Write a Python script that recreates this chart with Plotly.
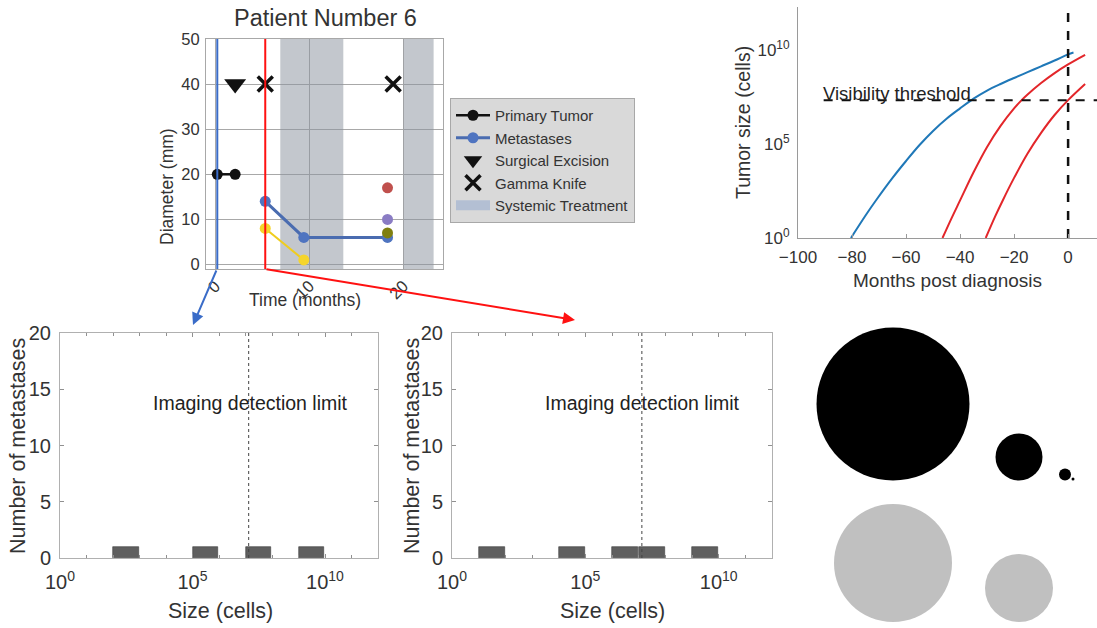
import plotly.graph_objects as go

W, H = 1097, 628
FONT = "Liberation Sans, Arial, sans-serif"
TXT = "#333333"


def px(x):
    return x / W


def py(y):
    return 1 - y / H


# ---------------- Panel A: patient timeline ----------------
snapshot_times = [0.2, 5.3]
primary_t = [0.2, 2.1]
primary_d = [20, 20]
met_blue_t = [5.3, 9.4, 18.3]
met_blue_d = [14, 6, 6]
met_yellow_t = [5.3, 9.4]
met_yellow_d = [8, 1]
late_met_t = [18.3, 18.3, 18.3]
late_met_d = [17, 10, 7]
late_met_colors = ["#c0504d", "#8a7cc4", "#7f7f10"]
surgery_t = [2.1]
surgery_y = [40]
gamma_t = [5.3, 18.9]
gamma_y = [40, 40]
systemic_start = [6.9, 20.0]
systemic_end = [13.6, 23.2]

# ---------------- Panel B: growth curves (log10 of cells) ----------------
blue_months = [-80.4, -75, -70.9, -65, -60, -55, -50, -45, -40, -35, -30, -25, -20, -15, -10, -5, 0, 2]
blue_log = [0, 1.2, 2.05, 3.2, 4.1, 4.95, 5.7, 6.35, 6.9, 7.42, 7.85, 8.2, 8.52, 8.83, 9.14,
            9.45, 9.78, 9.88]
red1_months = [-46.5, -43, -40, -35, -30, -25, -20, -17.2, -15, -10, -5, 0, 6.3]
red1_log = [0, 1.1, 2.0, 3.5, 4.85, 5.97, 6.9, 7.34, 7.64, 8.25, 8.78, 9.24, 9.75]
red2_months = [-30.5, -27, -24.2, -20, -15, -10, -5, 0, 6.3]
red2_log = [0, 1.15, 2.0, 3.2, 4.5, 5.6, 6.55, 7.34, 8.2]
visibility_log = 7.34
threshold_start = -90.5

# ---------------- Panels C/D: histograms ----------------
histC_bin_log = [2, 5, 7, 9]
histC_counts = [1, 1, 1, 1]
histD_bin_log = [1, 4, 6, 7, 9]
histD_counts = [1, 1, 1, 1, 1]
detection_log = 7.12

# ---------------- Panel E: circles ----------------
black_diam = [153, 47, 12, 3]
gray_diam = [118, 68]

fig = go.Figure()

# Panel A traces
bx, by = [], []
for s, e in zip(systemic_start, systemic_end):
    bx += [s, e, e, s, s, None]
    by += [-1, -1, 50, 50, -1, None]
fig.add_trace(go.Scatter(x=bx, y=by, fill="toself", mode="lines", line=dict(width=0),
                         fillcolor="rgba(140,148,160,0.52)", showlegend=False,
                         xaxis="x", yaxis="y"))
# legend key for systemic treatment (patch)
fig.add_trace(go.Scatter(x=[None], y=[None], mode="lines", name="Systemic Treatment",
                         line=dict(color="#b3bfd3", width=11), legendrank=5,
                         xaxis="x", yaxis="y"))
fig.add_trace(go.Scatter(x=primary_t, y=primary_d, mode="lines+markers", name="Primary Tumor",
                         line=dict(color="#111111", width=2.5), marker=dict(size=11, color="#111111"),
                         legendrank=1, xaxis="x", yaxis="y"))
fig.add_trace(go.Scatter(x=met_yellow_t, y=met_yellow_d, mode="lines+markers", showlegend=False,
                         line=dict(color="#f0cd1c", width=2), marker=dict(size=11, color="#f5d52c"),
                         xaxis="x", yaxis="y"))
fig.add_trace(go.Scatter(x=met_blue_t, y=met_blue_d, mode="lines+markers", name="Metastases",
                         line=dict(color="#4a6cb0", width=3), marker=dict(size=11, color="#4f74c0"),
                         legendrank=2, xaxis="x", yaxis="y"))
fig.add_trace(go.Scatter(x=late_met_t, y=late_met_d, mode="markers", showlegend=False,
                         marker=dict(size=11, color=late_met_colors, opacity=1), xaxis="x", yaxis="y"))
fig.add_trace(go.Scatter(x=surgery_t, y=surgery_y, mode="markers", name="Surgical Excision",
                         marker=dict(symbol="triangle-down", size=19, color="#111111"),
                         legendrank=3, xaxis="x", yaxis="y"))
fig.add_trace(go.Scatter(x=gamma_t, y=gamma_y, mode="markers", name="Gamma Knife",
                         marker=dict(symbol="x-thin", size=15, line=dict(width=3.5, color="#111111")),
                         legendrank=4, xaxis="x", yaxis="y"))

# Panel B traces
for xs, ls, col in [(blue_months, blue_log, "#1f78b8"), (red1_months, red1_log, "#e3262a"),
                    (red2_months, red2_log, "#e3262a")]:
    fig.add_trace(go.Scatter(x=xs, y=[10 ** v for v in ls], mode="lines", showlegend=False,
                             line=dict(color=col, width=2, shape="spline", smoothing=1.0),
                             xaxis="x2", yaxis="y2"))
fig.add_trace(go.Scatter(x=[threshold_start, 10.7], y=[10 ** visibility_log] * 2, mode="lines",
                         showlegend=False, line=dict(color="#111111", width=2, dash="dash"),
                         xaxis="x2", yaxis="y2"))
fig.add_trace(go.Scatter(x=[0, 0], y=[1, 10 ** 12.3], mode="lines", showlegend=False,
                         line=dict(color="#111111", width=2.5, dash="dash"), xaxis="x2", yaxis="y2"))

# Panels C/D bars
for bins, counts, xa, ya in [(histC_bin_log, histC_counts, "x3", "y3"),
                             (histD_bin_log, histD_counts, "x4", "y4")]:
    fig.add_trace(go.Bar(x=bins, y=counts, width=0.97, offset=0, showlegend=False,
                         marker=dict(color="#5f5f5f", line=dict(color="#3c3c3c", width=0.6)),
                         xaxis=xa, yaxis=ya))

# Panel E circles (bottom aligned in slots)
slots = [893, 1019, 1065, 1073]
fig.add_trace(go.Scatter(x=slots[:len(black_diam)], y=[480.5 - d / 2 for d in black_diam],
                         mode="markers", showlegend=False,
                         marker=dict(size=black_diam, color="#000000", opacity=1, line=dict(width=0)),
                         xaxis="x5", yaxis="y5", cliponaxis=False))
fig.add_trace(go.Scatter(x=slots[:len(gray_diam)], y=[622 - d / 2 for d in gray_diam],
                         mode="markers", showlegend=False,
                         marker=dict(size=gray_diam, color="#c0c0c0", opacity=1, line=dict(width=0)),
                         xaxis="x5", yaxis="y5", cliponaxis=False))

shapes = []
for t, col in zip(snapshot_times, ["#3a6cc8", "#ff1111"]):
    shapes.append(dict(type="line", xref="x", yref="y domain", x0=t, x1=t, y0=0, y1=1,
                       line=dict(color=col, width=2)))
for xa in ["x3", "x4"]:
    shapes.append(dict(type="line", xref=xa, yref=xa.replace("x", "y") + " domain",
                       x0=detection_log, x1=detection_log, y0=0, y1=1, layer="above",
                       line=dict(color="#444444", width=1, dash="dot")))

ann = []


def text(x, y, s, size, angle=0, color=TXT, **kw):
    ann.append(dict(x=px(x), y=py(y), xref="paper", yref="paper", text=s, showarrow=False,
                    textangle=angle, font=dict(size=size, color=color, family=FONT),
                    xanchor="center", yanchor="middle", **kw))


text(325, 18, "Patient Number 6", 23.5)
text(167, 187, "Diameter (mm)", 17.5, -90)
text(305, 300, "Time (months)", 17.5)
text(743, 123, "Tumor size (cells)", 19.5, -90)
text(947, 280, "Months post diagnosis", 19)
text(18, 446, "Number of metastases", 21.5, -90)
text(220, 611, "Size (cells)", 21.5)
text(250, 403, "Imaging detection limit", 19.5, color="#222222")
text(412, 446, "Number of metastases", 21.5, -90)
text(612, 611, "Size (cells)", 21.5)
text(642, 403, "Imaging detection limit", 19.5, color="#222222")
ann.append(dict(x=threshold_start, y=visibility_log, xref="x2", yref="y2", text="Visibility threshold",
                showarrow=False, xanchor="left", yanchor="bottom", yshift=-6, xshift=-3,
                font=dict(size=18.5, color="#222222", family=FONT)))

ann.append(dict(x=px(193), y=py(325), xref="paper", yref="paper", text="", showarrow=True,
                ax=24, ay=-56, axref="pixel", ayref="pixel", arrowhead=2, arrowsize=1.2,
                arrowwidth=2, arrowcolor="#3a6cc8", standoff=0))
ann.append(dict(x=px(575), y=py(320), xref="paper", yref="paper", text="", showarrow=True,
                ax=-310, ay=-51, axref="pixel", ayref="pixel", arrowhead=2, arrowsize=1.2,
                arrowwidth=2, arrowcolor="#ff1111", standoff=0))

axA = dict(showgrid=True, gridcolor="#a8a8a8", gridwidth=1, showline=True, linecolor="#a8a8a8",
           mirror=True, zeroline=False, ticks="", automargin=False,
           tickfont=dict(size=16.5, color=TXT, family=FONT))
hist_x = dict(range=[0, 12], tickmode="array", tickvals=[0, 5, 10],
              ticktext=["10<sup>0</sup>", "10<sup>5</sup>", "10<sup>10</sup>"],
              showline=True, linecolor="#b0b0b0", mirror="ticks", ticks="inside", ticklen=4,
              tickcolor="#909090", showgrid=False, zeroline=False, ticklabelstandoff=6,
              automargin=False,
              minor=dict(tickmode="array", tickvals=list(range(0, 13)), ticks="inside", ticklen=3,
                         tickcolor="#909090"),
              tickfont=dict(size=20, color=TXT, family=FONT))
hist_y = dict(range=[0, 20], tickmode="array", tickvals=[0, 5, 10, 15, 20], showline=True,
              linecolor="#b0b0b0", mirror="ticks", ticks="inside", ticklen=4, tickcolor="#909090",
              showgrid=False, zeroline=False, ticklabelstandoff=4, automargin=False,
              tickfont=dict(size=20, color=TXT, family=FONT))

fig.update_layout(
    template="none",
    width=W, height=H, margin=dict(l=0, r=0, t=0, b=0, autoexpand=False), autosize=False,
    paper_bgcolor="white", plot_bgcolor="white",
    font=dict(family=FONT, color=TXT),
    xaxis=dict(domain=[px(206), px(443)], range=[-1, 24.2], tickvals=[0, 10, 20], tickangle=-45,
               anchor="y", **axA),
    yaxis=dict(domain=[py(269), py(39)], range=[-1, 50], tickvals=[0, 10, 20, 30, 40, 50],
               ticklabelstandoff=2, anchor="x", **axA),
    xaxis2=dict(domain=[px(798), 1], range=[-100, 10.7], tickvals=[-100, -80, -60, -40, -20, 0],
                anchor="y2", showline=True, linecolor="#9a9a9a", ticks="inside", ticklen=4,
                tickcolor="#9a9a9a", showgrid=False, zeroline=False, ticklabelstandoff=4,
                automargin=False, tickfont=dict(size=17, color=TXT, family=FONT)),
    yaxis2=dict(domain=[py(238), py(7)], type="log", range=[0, 12.3], tickvals=[1, 1e5, 1e10],
                ticktext=["10<sup>0</sup>", "10<sup>5</sup>", "10<sup>10</sup>"], anchor="x2",
                showline=True, linecolor="#9a9a9a", ticks="", showgrid=False, zeroline=False,
                ticklabelstandoff=4, automargin=False, tickfont=dict(size=17, color=TXT, family=FONT)),
    xaxis3=dict(domain=[px(60), px(378)], anchor="y3", **hist_x),
    yaxis3=dict(domain=[py(558), py(333)], anchor="x3", **hist_y),
    xaxis4=dict(domain=[px(452), px(772)], anchor="y4", **hist_x),
    yaxis4=dict(domain=[py(558), py(333)], anchor="x4", **hist_y),
    xaxis5=dict(domain=[px(800), 1], range=[800, 1097], visible=False, anchor="y5", automargin=False),
    yaxis5=dict(domain=[0, py(310)], range=[628, 310], visible=False, anchor="x5", automargin=False),
    legend=dict(x=px(450), y=py(98), xanchor="left", yanchor="top", bgcolor="#d9d9d9",
                bordercolor="#a8a8a8", borderwidth=1, font=dict(size=15, color=TXT, family=FONT),
                itemwidth=34, tracegroupgap=0),
    shapes=shapes, annotations=ann, bargap=0,
)

fig.write_html("out.html")
